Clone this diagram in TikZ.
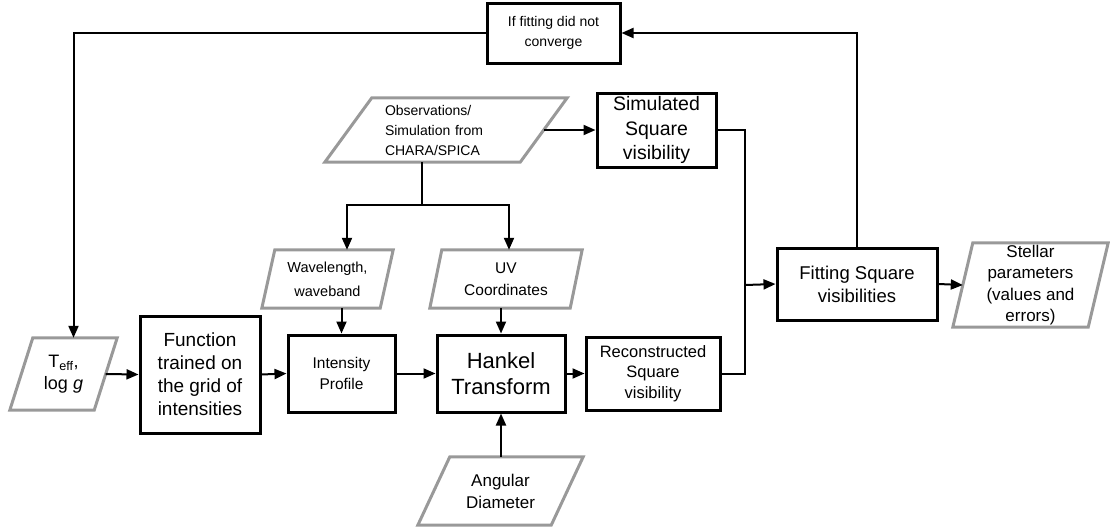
\documentclass[tikz,border=0pt]{standalone}
\usepackage{fontspec}
\setmainfont{Liberation Sans}
\usetikzlibrary{arrows.meta}
\definecolor{pgray}{RGB}{153,153,153}
\tikzset{
  box/.style={draw, line width=3pt, inner sep=0pt, align=center},
  pbox/.style={inner sep=0pt, align=center},
  conn/.style={line width=2pt, -{Triangle[length=12pt,width=10pt]}},
  plain/.style={line width=2pt},
  big/.style={font=\fontsize{19.5}{24.5}\selectfont},
  mid/.style={font=\fontsize{15.5}{21.5}\selectfont},
  small/.style={font=\fontsize{14}{20}\selectfont},
}
\newcommand{\para}[2]{\draw[pgray, line width=3pt, line join=miter] ([xshift=#2pt]#1.north west) -- (#1.north east) -- ([xshift=-#2pt]#1.south east) -- (#1.south west) -- cycle;}
\begin{document}
\begin{tikzpicture}[x=1pt,y=-1pt]
\useasboundingbox (0,0) rectangle (1110,528);
% rectangles
\node[box, small, minimum width=133pt, minimum height=60pt] (conv) at (553.5,33) {If fitting did not\\converge};
\node[box, big, minimum width=119pt, minimum height=74pt] (sim) at (656.5,130) {Simulated\\Square\\visibility};
\node[box, font=\fontsize{19}{23}\selectfont, minimum width=120pt, minimum height=117pt] (func) at (200,374.5) {Function\\trained on\\the grid of\\intensities};
\node[box, mid, minimum width=107pt, minimum height=77pt] (int) at (341.5,373.5) {Intensity\\Profile};
\node[box, font=\fontsize{22}{26}\selectfont, minimum width=128pt, minimum height=77pt] (hank) at (501,373.5) {Hankel\\Transform};
\node[box, font=\fontsize{16.5}{20.5}\selectfont, minimum width=134pt, minimum height=73pt] (rec) at (653,373.5) {Reconstructed\\Square\\visibility};
\node[box, font=\fontsize{18.5}{23}\selectfont, minimum width=160pt, minimum height=72pt] (fit) at (857,284) {Fitting Square\\visibilities};
% parallelograms
\node[pbox, small, align=left, text width=122pt, minimum width=242pt, minimum height=64pt] (obs) at (446,130) {Observations/\\Simulation from\\CHARA/SPICA};
\para{obs}{47}
\node[pbox, font=\fontsize{14.5}{24}\selectfont, minimum width=131pt, minimum height=58pt] (wave) at (327.5,279) {Wavelength,\\waveband};
\para{wave}{13}
\node[pbox, font=\fontsize{15.5}{22}\selectfont, minimum width=152pt, minimum height=58pt] (uv) at (506,279) {UV\\Coordinates};
\para{uv}{12}
\node[pbox, font=\fontsize{18}{22}\selectfont, minimum width=107pt, minimum height=72pt] (teff) at (63.5,374) {T\textsubscript{eff},\\log \textit{g}};
\para{teff}{23}
\node[pbox, font=\fontsize{17}{22}\selectfont, minimum width=165pt, minimum height=68pt] (ang) at (500.5,491) {Angular\\Diameter};
\para{ang}{32}
\node[pbox, font=\fontsize{17}{21.3}\selectfont, minimum width=155pt, minimum height=84pt] (stel) at (1030.5,285) {Stellar\\parameters\\(values and\\errors)};
\para{stel}{20}
% connectors
\coordinate (split) at (422,205);
\coordinate (j) at (745,285);
\draw[conn] (conv.west) -| ([xshift=10pt]teff.north);
\draw[conn] (fit.north) |- (conv.east);
\draw[conn] ([xshift=-23.5pt]obs.east) -- (sim.west);
\draw[plain] ([xshift=-24pt]obs.south) -- (split);
\draw[conn] (split) -| ([xshift=19.5pt]wave.north);
\draw[conn] (split) -| ([xshift=3pt]uv.north);
\draw[conn] (int.north |- wave.south) -- (int.north);
\draw[conn] (hank.north |- uv.south) -- (hank.north);
\draw[conn] (hank.south |- ang.north) -- (hank.south);
\draw[conn] ([xshift=-11.5pt]teff.east) -- (func.west);
\draw[conn] (func.east) -- (int.west);
\draw[conn] (int.east) -- (hank.west);
\draw[conn] (hank.east) -- (rec.west);
\draw[plain] (sim.east) -| (j) |- (rec.east);
\draw[conn] (j) -- (fit.west);
\draw[conn] (fit.east) -- ([xshift=10pt]stel.west);
\end{tikzpicture}
\end{document}
